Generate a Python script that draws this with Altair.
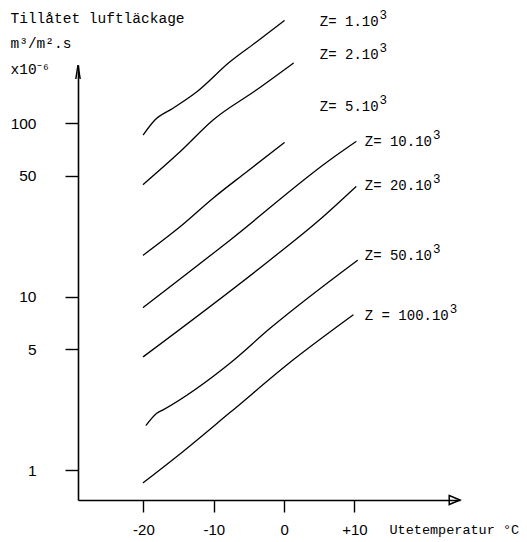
import altair as alt
import pandas as pd

# ---- data -------------------------------------------------------------
z_names = ["1", "2", "5", "10", "20", "50", "100"]

z1_temp = [-20, -18.4, -15.8, -12.4, -7.7, -3.9, 0]
z1_leak = [86, 104, 122, 152, 226, 295, 390]
z2_temp = [-20, -14.8, -10.1, -3.9, 1.3]
z2_leak = [44.5, 68.5, 104.5, 156, 222]
z5_temp = [-20, -14.8, -10.1, -5.3, 0]
z5_leak = [17.4, 25.3, 37, 52.6, 77.3]
z10_temp = [-20, -7.7, 6.5, 10.2]
z10_leak = [8.7, 21.2, 61.4, 78.3]
z20_temp = [-20, -2, 5, 10.2]
z20_leak = [4.52, 16.3, 27.7, 43.1]
z50_temp = [-19.6, -18.1, -17.2, -7.7, -2, 10.4]
z50_leak = [1.82, 2.13, 2.23, 4.14, 6.58, 16.2]
z100_temp = [-20, -14.4, -7.7, 1.3, 9.8]
z100_leak = [0.85, 1.28, 2.15, 4.33, 7.85]

label_texts = ["Z= 1.10", "Z= 2.10", "Z= 5.10", "Z= 10.10", "Z= 20.10", "Z= 50.10", "Z = 100.10"]
label_temp = [5.07, 5.07, 5.07, 11.46, 11.46, 11.46, 11.46]
label_leak = [382, 248, 124, 78, 43.6, 17.2, 7.74]
label_sup = ["3"] * 7

x_ticks = [-20, -10, 0, 10]
y_ticks = [1, 5, 10, 50, 100]
x_domain = [-29.3, 25.0]
y_domain = [0.674, 216.7]

y_title = ["Tillåtet luftläckage", "m³/m².s", "x10⁻⁶"]
x_title = "Utetemperatur °C"

# ---- tables -------------------------------------------------------------
all_temp = [z1_temp, z2_temp, z5_temp, z10_temp, z20_temp, z50_temp, z100_temp]
all_leak = [z1_leak, z2_leak, z5_leak, z10_leak, z20_leak, z50_leak, z100_leak]
rows = []
for name, ts, vs in zip(z_names, all_temp, all_leak):
    for i, (t, v) in enumerate(zip(ts, vs)):
        rows.append({"z": name, "order": i, "temp": t, "leak": v})
lines_df = pd.DataFrame(rows)

labels_df = pd.DataFrame({"label": label_texts, "temp": label_temp,
                          "leak": label_leak, "sup": label_sup})

arrow_y_df = pd.DataFrame({"temp": [x_domain[0]], "leak": [y_domain[1]]})
arrow_x_df = pd.DataFrame({"temp": [x_domain[1]], "leak": [y_domain[0]]})

MONO = "Liberation Mono"
SANS = "Liberation Sans"
CHAR_W = 8.4  # advance of a 14px monospace glyph

xscale = alt.Scale(domain=x_domain, nice=False, zero=False)
yscale = alt.Scale(type="log", domain=y_domain, nice=False)

x_axis = alt.Axis(
    values=x_ticks, grid=False, domain=True, domainColor="black", domainWidth=1.6,
    ticks=True, tickColor="black", tickWidth=1.4, tickSize=12,
    labelFont=SANS, labelFontSize=15, labelColor="black", labelPadding=10,
    labelExpr="datum.value > 0 ? '+' + datum.value : '' + datum.value",
    title=x_title, titleFont=MONO, titleFontSize=13.5, titleFontWeight="normal",
    titleColor="black", titleAngle=0, titleAlign="left", titleBaseline="middle",
    titleX=311, titleY=29,
)
y_axis = alt.Axis(
    values=y_ticks, grid=False, domain=True, domainColor="black", domainWidth=1.6,
    ticks=True, tickColor="black", tickWidth=1.4, tickSize=13,
    labelFont=SANS, labelFontSize=15.5, labelColor="black", labelPadding=29,
    labelExpr="'' + datum.value",
    title=y_title, titleFont=MONO, titleFontSize=14.5, titleFontWeight="normal",
    titleColor="black", titleAngle=0, titleAlign="left", titleBaseline="top",
    titleX=-68, titleY=-54, titleLineHeight=25.5,
)

X = alt.X("temp:Q", scale=xscale, axis=x_axis)
Y = alt.Y("leak:Q", scale=yscale, axis=y_axis)

lines = alt.Chart(lines_df).mark_line(
    color="black", strokeWidth=1.3, strokeCap="round", interpolate="monotone"
).encode(x=X, y=Y, detail="z:N", order="order:Q")

labels = alt.Chart(labels_df).mark_text(
    font=MONO, fontSize=14, color="black", align="left", baseline="middle"
).encode(x=X, y=Y, text="label:N")

sup_layers = []
for n in sorted(set(len(t) for t in label_texts)):
    sup_layers.append(
        alt.Chart(labels_df).transform_filter(f"length(datum.label) == {n}").mark_text(
            font=MONO, fontSize=12.5, color="black", align="left", baseline="middle",
            dy=-7, dx=CHAR_W * n + 1,
        ).encode(x=X, y=Y, text="sup:N")
    )

arrow_y = alt.Chart(arrow_y_df).mark_point(
    shape="M-0.22,1.4L0,0L0.22,1.4", size=400, filled=False,
    stroke="black", strokeWidth=1.5, opacity=1
).encode(x=X, y=Y)

arrow_x = alt.Chart(arrow_x_df).mark_point(
    shape="M-1.8,-0.75L0,0L-1.8,0.75Z", size=144, filled=False,
    stroke="black", strokeWidth=1.5, opacity=1
).encode(x=X, y=Y)

chart = alt.layer(lines, labels, *sup_layers, arrow_y, arrow_x).properties(
    width=382, height=435,
    autosize=alt.AutoSizeParams(type="none"),
    padding={"left": 70, "top": 57, "right": 59, "bottom": 40},
    background="white",
).configure_view(stroke=None)

chart.save("out.html", embed_options={"renderer": "svg", "actions": False})
